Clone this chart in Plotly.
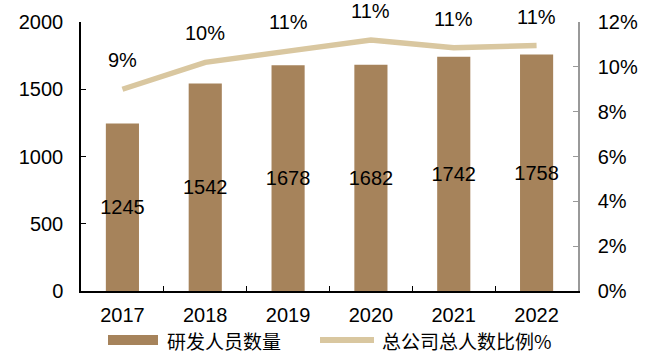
import plotly.graph_objects as go

years = ["2017", "2018", "2019", "2020", "2021", "2022"]
staff = [1245, 1542, 1678, 1682, 1742, 1758]
ratio = [9.0, 10.2, 10.7, 11.2, 10.85, 10.95]
ratio_labels = ["9%", "10%", "11%", "11%", "11%", "11%"]
series_names = ["研发人员数量", "总公司总人数比例%"]

BAR = "#A6835B"
LINE = "#D9C7A0"
FONT = "Liberation Sans, Arial, sans-serif"

fig = go.Figure()
fig.add_trace(go.Bar(
    x=years, y=staff, name=series_names[0], marker=dict(color=BAR, line=dict(width=0)),
    text=[str(v) for v in staff], textposition="inside", insidetextanchor="middle",
    textangle=0, constraintext="none",
    textfont=dict(color="black", size=20, family=FONT), width=0.4, showlegend=False,
))
fig.add_trace(go.Scatter(
    x=years, y=ratio, name=series_names[1], yaxis="y2", mode="lines",
    line=dict(color=LINE, width=5.5), showlegend=False,
))
for i, (y, t) in enumerate(zip(ratio, ratio_labels)):
    fig.add_annotation(x=i, y=y, xref="x", yref="y2", text=t, showarrow=False, yshift=29,
                       font=dict(size=20, color="black", family=FONT))

# custom legend
fig.add_shape(type="rect", xref="paper", yref="paper", x0=(108-81)/497, x1=(158-81)/497,
              y0=(291-345)/269, y1=(291-335)/269, fillcolor=BAR, line=dict(width=0))
fig.add_shape(type="line", xref="paper", yref="paper", x0=(320-81)/497, x1=(374-81)/497,
              y0=(291-340)/269, y1=(291-340)/269, line=dict(color=LINE, width=6))
fig.add_annotation(xref="paper", yref="paper", x=(165-81)/497, y=(291-340)/269, xanchor="left",
                   yanchor="middle", text=series_names[0], showarrow=False,
                   font=dict(size=19, color="black", family="Noto Sans CJK SC"))
fig.add_annotation(xref="paper", yref="paper", x=(380-81)/497, y=(291-340)/269, xanchor="left",
                   yanchor="middle", text=series_names[1], showarrow=False,
                   font=dict(size=19, color="black", family="Noto Sans CJK SC"))

fig.update_layout(
    width=654, height=354, margin=dict(l=81, r=76, t=22, b=63),
    paper_bgcolor="white", plot_bgcolor="white",
    font=dict(family=FONT, size=20, color="black"),
    bargap=0.6,
    xaxis=dict(type="category", range=[-0.5, len(years) - 0.5], showline=True,
               linecolor="black", linewidth=1.5,
               ticks="inside", tickson="boundaries", ticklen=5, tickcolor="black",
               tickfont=dict(size=20), showgrid=False, ticklabelstandoff=5),
    yaxis=dict(range=[0, 2000], dtick=500, showline=True, linecolor="black", linewidth=1.5,
               ticks="inside", ticklen=5, tickcolor="black", showgrid=False, zeroline=False,
               tickfont=dict(size=20), ticklabelstandoff=12),
    yaxis2=dict(range=[0, 12], dtick=2, overlaying="y", side="right", showline=True,
                linecolor="#999999", linewidth=1.5, ticks="inside", ticklen=5, tickcolor="#999999",
                showgrid=False, zeroline=False, ticksuffix="%", tickfont=dict(size=20),
                ticklabelstandoff=14),
)

fig.write_html("out.html")
